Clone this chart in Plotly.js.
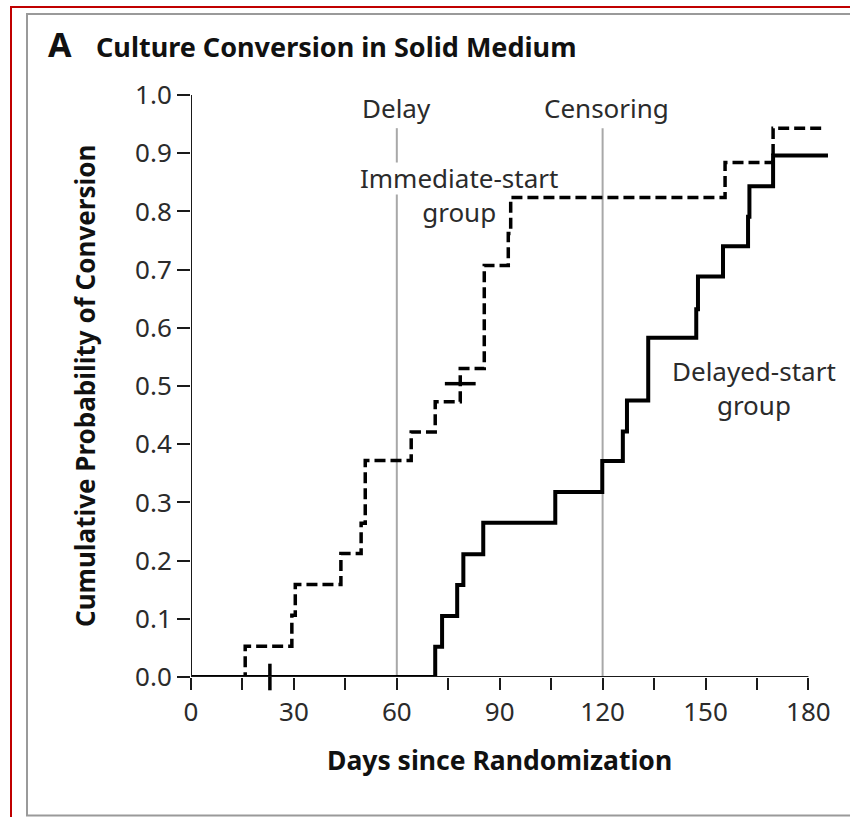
<!DOCTYPE html>
<html>
<head>
<meta charset="utf-8">
<script src="https://cdn.plot.ly/plotly-3.0.1.min.js"></script>
<style>
  html, body { margin: 0; padding: 0; background: #ffffff; }
  #chart { width: 850px; height: 817px; }
</style>
</head>
<body>
<div id="chart"></div>
<script>
// ---- data ----
const immDays = [0, 15.8, 29.4, 30.4, 43.7, 49.6, 50.8, 64.2, 71.2, 78.5, 85.5, 92.5, 93.2, 155.7, 169.7, 184];
const immProb = [0, 0.053, 0.106, 0.159, 0.212, 0.264, 0.372, 0.421, 0.473, 0.530, 0.707, 0.762, 0.824, 0.884, 0.943, 0.943];

const delDays = [0, 71.2, 73.2, 77.6, 79.4, 85.2, 106.2, 119.9, 125.9, 127.1, 133.3, 147.3, 147.8, 155.1, 162.4, 162.8, 169.7, 185.7];
const delProb = [0, 0.052, 0.105, 0.158, 0.211, 0.265, 0.318, 0.371, 0.422, 0.475, 0.583, 0.632, 0.688, 0.740, 0.791, 0.843, 0.896, 0.896];

// censoring marks
const censorDays = [23, 78.5];
const censorProb = [0, 0.504];
const censorSymbols = ['line-ns', 'line-ew'];

// reference lines
const delayDay = 60;
const censoringDay = 120;

// axis ticks
const xTickVals = [0, 15, 30, 45, 60, 75, 90, 105, 120, 135, 150, 165, 180];
const xTickText = ['0', '', '30', '', '60', '', '90', '', '120', '', '150', '', '180'];
const yTickVals = [0, 0.1, 0.2, 0.3, 0.4, 0.5, 0.6, 0.7, 0.8, 0.9, 1.0];
const yTickText = ['0.0', '0.1', '0.2', '0.3', '0.4', '0.5', '0.6', '0.7', '0.8', '0.9', '1.0'];

// texts
const panelLetter = 'A';
const panelTitle = 'Culture Conversion in Solid Medium';
const xTitle = 'Days since Randomization';
const yTitle = 'Cumulative Probability of Conversion';
const labelDelay = 'Delay';
const labelCensoring = 'Censoring';
const labelImmediate = 'Immediate-start<br>group';
const labelDelayed = 'Delayed-start<br>group';

// ---- layout geometry ----
const W = 850, H = 817;
const M = { l: 191, r: 21, t: 95, b: 140 };
const PW = W - M.l - M.r, PH = H - M.t - M.b;
const px = v => (v - M.l) / PW;          // pixel x -> paper x
const py = v => (H - M.b - v) / PH;      // pixel y -> paper y

const regFont = '"Noto Sans", "Open Sans", sans-serif';
const boldFont = '"Noto Sans", "Open Sans", sans-serif';
const textColor = '#2b2b2b';
const axisColor = '#1a1a1a';

const traces = [
  {
    x: immDays, y: immProb, type: 'scatter', mode: 'lines',
    line: { shape: 'hv', color: '#000000', width: 3.5, dash: '11px,5px' },
    hoverinfo: 'skip', showlegend: false
  },
  {
    x: delDays, y: delProb, type: 'scatter', mode: 'lines',
    line: { shape: 'hv', color: '#000000', width: 4 },
    hoverinfo: 'skip', showlegend: false
  },
  {
    x: censorDays, y: censorProb, type: 'scatter', mode: 'markers', cliponaxis: false,
    marker: { symbol: censorSymbols, size: [19, 22], color: '#000000', opacity: 1, line: { color: '#000000', width: 3.5 } },
    hoverinfo: 'skip', showlegend: false
  }
];

const shapes = [
  // outer red frame (left + top)
  { type: 'path', xref: 'paper', yref: 'paper', path: `M ${px(11)},${py(830)} L ${px(11)},${py(7)} L ${px(860)},${py(7)}`, line: { color: '#c00000', width: 2 } },
  // inner gray frame (left, top, bottom)
  { type: 'path', xref: 'paper', yref: 'paper', path: `M ${px(860)},${py(815.5)} L ${px(27)},${py(815.5)} L ${px(27)},${py(14)} L ${px(860)},${py(14)}`, line: { color: '#9a9a9a', width: 2 } },
  // reference lines
  { type: 'line', xref: 'x', yref: 'y', x0: delayDay, x1: delayDay, y0: 0, y1: 0.829, line: { color: '#a8a8a8', width: 2 }, layer: 'below' },
  { type: 'line', xref: 'x', yref: 'y', x0: delayDay, x1: delayDay, y0: 0.884, y1: 0.943, line: { color: '#a8a8a8', width: 2 }, layer: 'below' },
  { type: 'line', xref: 'x', yref: 'y', x0: censoringDay, x1: censoringDay, y0: 0, y1: 0.943, line: { color: '#a8a8a8', width: 2 }, layer: 'below' },
  // axis lines
  { type: 'line', xref: 'x', yref: 'y', x0: 0, x1: 180, y0: 0, y1: 0, line: { color: axisColor, width: 2 } },
  { type: 'line', xref: 'x', yref: 'y', x0: 0, x1: 0, y0: 0, y1: 1, line: { color: axisColor, width: 2 } }
];

const annotations = [
  { xref: 'paper', yref: 'paper', x: px(46), y: py(44), xanchor: 'left', yanchor: 'middle', text: panelLetter, showarrow: false,
    font: { family: boldFont, size: 34, color: '#111', weight: 700 } },
  { xref: 'paper', yref: 'paper', x: px(94), y: py(46), xanchor: 'left', yanchor: 'middle', text: panelTitle, showarrow: false,
    font: { family: boldFont, size: 27, color: '#111', weight: 700 } },
  { xref: 'x', yref: 'paper', x: 90, y: py(760), xanchor: 'center', yanchor: 'middle', text: xTitle, showarrow: false,
    font: { family: boldFont, size: 26.5, color: '#111', weight: 700 } },
  { xref: 'paper', yref: 'paper', x: px(85), y: py(386), xanchor: 'center', yanchor: 'middle', text: yTitle, textangle: -90, showarrow: false,
    font: { family: boldFont, size: 26, color: '#111', weight: 700 } },
  { xref: 'x', yref: 'paper', x: delayDay, y: py(108), xanchor: 'center', yanchor: 'middle', text: labelDelay, showarrow: false,
    font: { family: regFont, size: 26, color: textColor } },
  { xref: 'x', yref: 'paper', x: 121, y: py(108), xanchor: 'center', yanchor: 'middle', text: labelCensoring, showarrow: false,
    font: { family: regFont, size: 26, color: textColor } },
  { xref: 'x', yref: 'paper', x: 78, y: py(195), xanchor: 'center', yanchor: 'middle', text: labelImmediate, showarrow: false,
    font: { family: regFont, size: 26, color: textColor } },
  { xref: 'x', yref: 'paper', x: 164, y: py(388), xanchor: 'center', yanchor: 'middle', text: labelDelayed, showarrow: false,
    font: { family: regFont, size: 26, color: textColor } }
];

const layout = {
  width: W, height: H,
  margin: M,
  paper_bgcolor: '#ffffff', plot_bgcolor: '#ffffff',
  showlegend: false,
  xaxis: {
    range: [0, 186], showline: false, showgrid: false, zeroline: false,
    tickmode: 'array', tickvals: xTickVals, ticktext: xTickText,
    ticks: 'outside', ticklen: 12, tickwidth: 2, tickcolor: axisColor,
    tickfont: { family: regFont, size: 26, color: textColor },
    fixedrange: true
  },
  yaxis: {
    range: [0, 1], showline: false, showgrid: false, zeroline: false,
    tickmode: 'array', tickvals: yTickVals, ticktext: yTickText,
    ticks: 'outside', ticklen: 13, tickwidth: 2, tickcolor: axisColor,
    tickfont: { family: regFont, size: 26, color: textColor },
    fixedrange: true
  },
  shapes: shapes,
  annotations: annotations
};

Plotly.newPlot('chart', traces, layout, { staticPlot: true, displayModeBar: false });
</script>
</body>
</html>
